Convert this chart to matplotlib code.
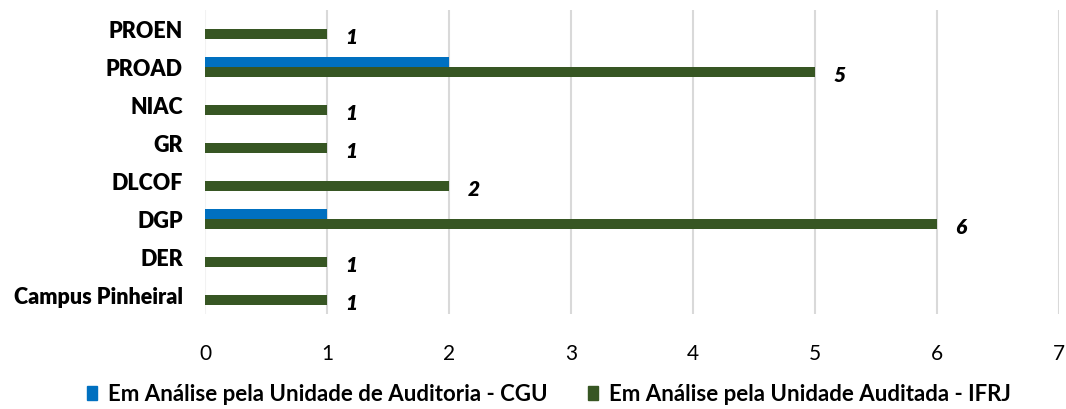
import matplotlib
matplotlib.use("Agg")
import matplotlib.pyplot as plt
import numpy as np
from matplotlib.patches import Patch

categories = ["Campus Pinheiral", "DER", "DGP", "DLCOF", "GR", "NIAC", "PROAD", "PROEN"]
cgu = [0, 0, 1, 0, 0, 0, 2, 0]
ifrj = [1, 1, 6, 2, 1, 1, 5, 1]
series_names = ["Em Análise pela Unidade de Auditoria - CGU", "Em Análise pela Unidade Auditada - IFRJ"]
xticks = [0, 1, 2, 3, 4, 5, 6, 7]

BLUE = "#0070C0"
GREEN = "#375623"
FONT = "Lato"

plt.rcParams['font.family'] = [FONT, 'DejaVu Sans']

fig = plt.figure(figsize=(10.66, 4.10), dpi=100)
ax = fig.add_axes([205/1066, 1-315/410, (1059-205)/1066, (315-11)/410])

y = np.arange(len(categories))
h = 0.275
ax.barh(y + h/2, cgu, height=h, color=BLUE, zorder=3)
ax.barh(y - h/2, ifrj, height=h, color=GREEN, zorder=3)

for yi, v in zip(y, ifrj):
    ax.text(v + 0.15, yi - h/2 - 0.06, str(v), ha="left", va="center",
            fontsize=15, fontweight="heavy", fontstyle="italic", color="black")

ax.set_xlim(0, 7)
ax.set_ylim(-0.5, len(categories) - 0.5)
ax.set_xticks(xticks)
ax.set_xticklabels([str(t) for t in xticks], fontsize=15)
ax.set_yticks(y)
ax.set_yticklabels(categories, fontsize=15.5, fontweight="heavy")
ax.tick_params(axis="both", length=0)
ax.tick_params(axis="y", pad=16)
ax.tick_params(axis="x", pad=21)
ax.grid(axis="x", color="#D9D9D9", linewidth=1.5, zorder=0)
ax.get_xgridlines()[0].set_color("#F2F2F2")
for s in ax.spines.values():
    s.set_visible(False)

handles = [Patch(color=BLUE), Patch(color=GREEN)]
fig.legend(handles, series_names, loc="center", bbox_to_anchor=(0.515, 1-395/410),
           ncol=2, frameon=False, prop={"weight": "bold", "size": 16},
           handlelength=0.45, handleheight=0.6, handletextpad=0.5, columnspacing=1.8)

fig.savefig("out.png", dpi=100)
